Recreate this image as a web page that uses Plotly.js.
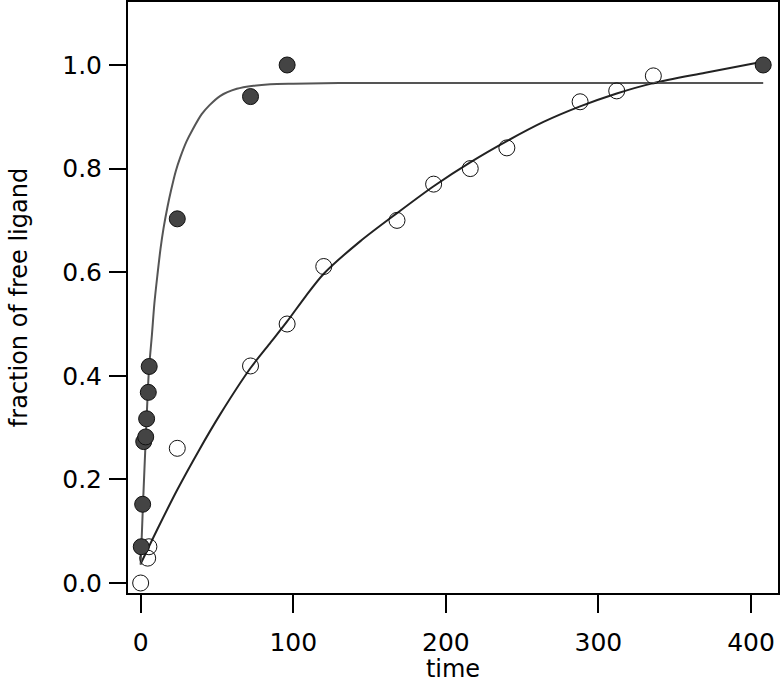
<!DOCTYPE html>
<html>
<head>
<meta charset="utf-8">
<script src="https://cdn.plot.ly/plotly-3.0.1.min.js"></script>
<style>html,body{margin:0;padding:0;background:#fff;}#chart{width:780px;height:683px;}</style>
</head>
<body>
<div id="chart"></div>
<script>
// Fast-binding data (filled circles)
const fastTime = [0.4, 1.3, 2.0, 3.3, 3.9, 5.0, 5.6, 24, 72, 96, 408];
const fastFrac = [0.07, 0.152, 0.273, 0.282, 0.317, 0.368, 0.418, 0.703, 0.939, 1.0, 1.0];

// Slow-binding data (open circles)
const slowTime = [0, 4.6, 5.4, 24, 72, 96, 120, 168, 192, 216, 240, 288, 312, 336];
const slowFrac = [0.0, 0.048, 0.07, 0.26, 0.419, 0.5, 0.611, 0.70, 0.77, 0.80, 0.84, 0.929, 0.95, 0.979];

// Fit curves
const fastFitTime = [0, 1.5, 3.5, 5.4, 7.4, 9, 11, 13, 15, 17.5, 20, 23, 26, 30, 34, 40, 45, 52, 63, 74, 85, 100, 130, 408];
const fastFitFrac = [0.035, 0.15, 0.29, 0.41, 0.48, 0.54, 0.595, 0.645, 0.685, 0.725, 0.759, 0.795, 0.822, 0.852, 0.875, 0.905, 0.922, 0.94, 0.954, 0.96, 0.963, 0.964, 0.965, 0.965];

const slowFitTime = [0, 12, 24, 38, 52, 72, 84, 96, 108, 120, 144, 168, 192, 216, 240, 264, 288, 312, 336, 370, 405];
const slowFitFrac = [0.037, 0.11, 0.18, 0.255, 0.325, 0.415, 0.46, 0.505, 0.553, 0.597, 0.66, 0.714, 0.766, 0.812, 0.853, 0.89, 0.92, 0.945, 0.965, 0.985, 1.005];

const yTicks = [0, 0.2, 0.4, 0.6, 0.8, 1.0];
const yTickText = ["0.0", "0.2", "0.4", "0.6", "0.8", "1.0"];
const xTicks = [0, 100, 200, 300, 400];
const xTickText = ["0", "100", "200", "300", "400"];

const traces = [
  {x: slowFitTime, y: slowFitFrac, mode: 'lines', line: {color: '#222', width: 2, shape: 'spline', smoothing: 0.8}, hoverinfo: 'skip'},
  {x: fastFitTime, y: fastFitFrac, mode: 'lines', line: {color: '#555', width: 2, shape: 'spline', smoothing: 0.8}, hoverinfo: 'skip'},
  {x: slowTime, y: slowFrac, mode: 'markers', marker: {symbol: 'circle-open', size: 16, color: '#111', line: {width: 1, color: '#111'}}},
  {x: fastTime, y: fastFrac, mode: 'markers', marker: {symbol: 'circle', size: 16, color: '#444', line: {width: 1, color: '#111'}}}
];

const fam = 'DejaVu Sans, sans-serif';

const layout = {
  width: 780, height: 683,
  margin: {l: 128, r: 2, t: 2, b: 90},
  paper_bgcolor: '#fff', plot_bgcolor: '#fff',
  showlegend: false,
  font: {family: fam, color: '#000'},
  xaxis: {
    range: [-8.3, 417.7],
    tickvals: xTicks, ticktext: xTickText,
    ticks: 'outside', ticklen: 18, tickwidth: 2, tickcolor: '#000',
    showline: true, linecolor: '#000', linewidth: 2, mirror: true,
    showgrid: false, zeroline: false,
    tickfont: {family: fam, size: 25, color: '#000'},
    ticklabelstandoff: 8,
    title: {text: 'time', font: {family: fam, size: 24, color: '#000'}, standoff: 2}
  },
  yaxis: {
    range: [-0.0193, 1.1216],
    tickvals: yTicks, ticktext: yTickText,
    ticks: 'outside', ticklen: 17, tickwidth: 2, tickcolor: '#000',
    showline: true, linecolor: '#000', linewidth: 2, mirror: true,
    showgrid: false, zeroline: false,
    tickfont: {family: fam, size: 25, color: '#000'},
    ticklabelstandoff: 2,
    title: {text: 'fraction of free ligand', font: {family: fam, size: 24, color: '#000'}, standoff: 28}
  }
};

Plotly.newPlot('chart', traces, layout, {displayModeBar: false, staticPlot: true});
</script>
</body>
</html>
